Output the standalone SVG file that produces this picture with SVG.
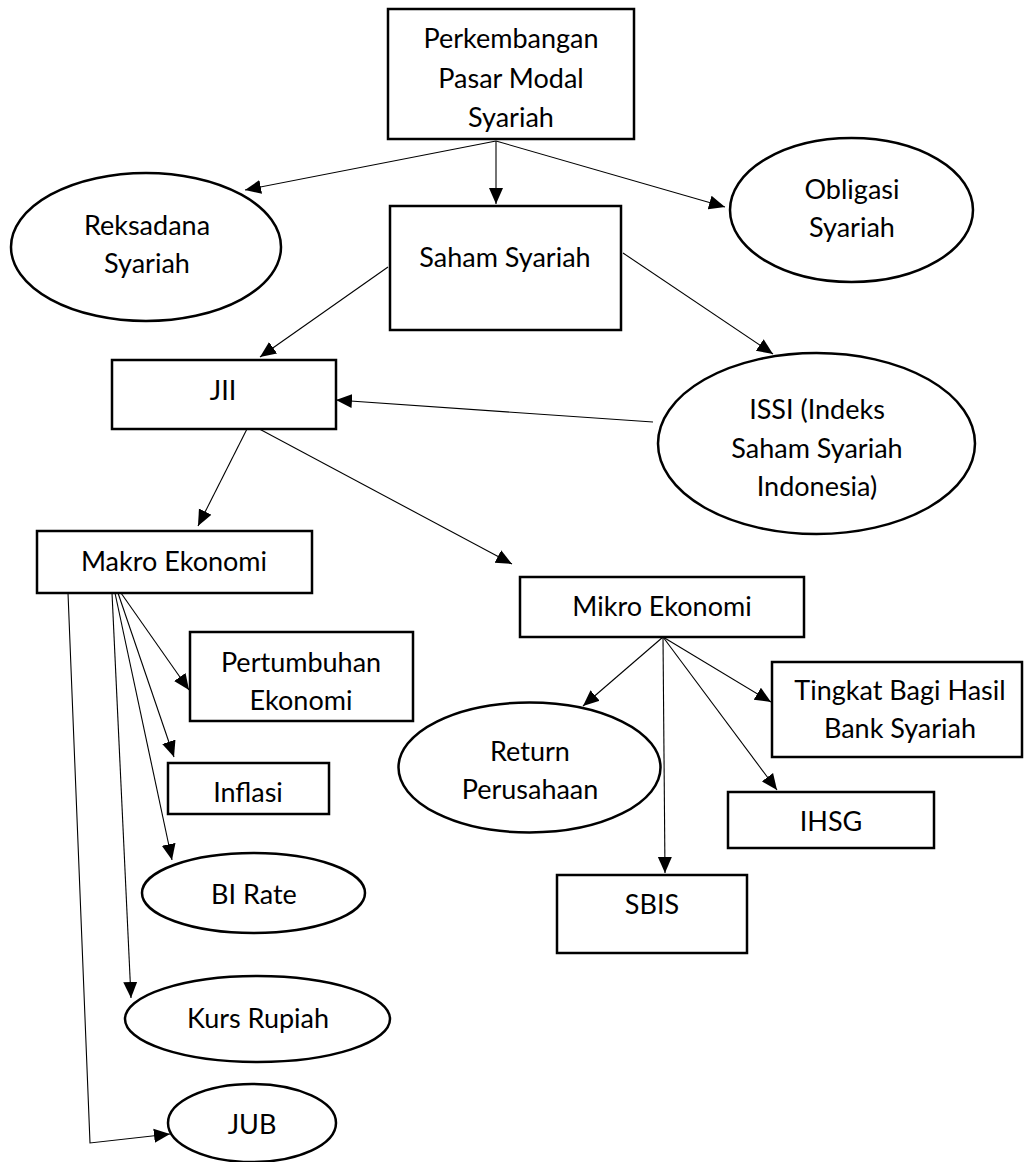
<svg xmlns="http://www.w3.org/2000/svg" width="1025" height="1162" viewBox="0 0 1025 1162">
<style>
.n{fill:#fff;stroke:#000;stroke-width:2.5}
.t{font-family:Lato,"Liberation Sans",sans-serif;font-size:27px;fill:#000;text-anchor:middle}
.c{fill:none;stroke:#000;stroke-width:1.1}
</style>
<defs>
<marker id="ah" markerUnits="userSpaceOnUse" markerWidth="18" markerHeight="16" refX="16" refY="7" orient="auto" viewBox="0 0 18 14">
<path d="M0,0 L16,7 L0,14 Z" fill="#000"/>
</marker>
</defs>
<rect width="1025" height="1162" fill="#fff"/>
<g id="connectors">
<line class="c" x1="496" y1="141" x2="245" y2="190" marker-end="url(#ah)"/>
<line class="c" x1="496" y1="141" x2="496" y2="204" marker-end="url(#ah)"/>
<line class="c" x1="496" y1="141" x2="725" y2="207" marker-end="url(#ah)"/>
<line class="c" x1="388" y1="267" x2="260" y2="357" marker-end="url(#ah)"/>
<line class="c" x1="623" y1="253" x2="773" y2="354" marker-end="url(#ah)"/>
<line class="c" x1="653" y1="422" x2="336" y2="400" marker-end="url(#ah)"/>
<line class="c" x1="249" y1="425" x2="198" y2="526" marker-end="url(#ah)"/>
<line class="c" x1="252" y1="425" x2="512" y2="564" marker-end="url(#ah)"/>
<line class="c" x1="121" y1="593" x2="189" y2="690" marker-end="url(#ah)"/>
<line class="c" x1="118" y1="593" x2="174" y2="757" marker-end="url(#ah)"/>
<line class="c" x1="115" y1="593" x2="172" y2="860" marker-end="url(#ah)"/>
<line class="c" x1="112" y1="593" x2="131" y2="998" marker-end="url(#ah)"/>
<polyline class="c" points="68,593 90,1143 170,1134" marker-end="url(#ah)"/>
<line class="c" x1="663" y1="637" x2="583" y2="706" marker-end="url(#ah)"/>
<line class="c" x1="663" y1="637" x2="665" y2="873" marker-end="url(#ah)"/>
<line class="c" x1="663" y1="637" x2="777" y2="790" marker-end="url(#ah)"/>
<line class="c" x1="663" y1="637" x2="771" y2="702" marker-end="url(#ah)"/>
</g>
<g id="perkembangan">
<rect class="n" x="388" y="9" width="246" height="130"/>
<text class="t" x="511" y="48">Perkembangan</text>
<text class="t" x="511" y="88">Pasar Modal</text>
<text class="t" x="511" y="127">Syariah</text>
</g>
<g id="reksadana">
<ellipse class="n" cx="146" cy="247" rx="135" ry="74"/>
<text class="t" x="147" y="235">Reksadana</text>
<text class="t" x="147" y="273">Syariah</text>
</g>
<g id="saham">
<rect class="n" x="390" y="206" width="231" height="124"/>
<text class="t" x="505" y="267">Saham Syariah</text>
</g>
<g id="obligasi">
<ellipse class="n" cx="851.5" cy="210" rx="121.5" ry="72"/>
<text class="t" x="852" y="199">Obligasi</text>
<text class="t" x="852" y="237">Syariah</text>
</g>
<g id="jii">
<rect class="n" x="112" y="360" width="224" height="69"/>
<text class="t" x="223" y="400">JII</text>
</g>
<g id="issi">
<ellipse class="n" cx="816.5" cy="443.5" rx="158.5" ry="90.5"/>
<text class="t" x="817" y="419">ISSI (Indeks</text>
<text class="t" x="817" y="458">Saham Syariah</text>
<text class="t" x="817" y="496">Indonesia)</text>
</g>
<g id="makro">
<rect class="n" x="37" y="531" width="275" height="62"/>
<text class="t" x="174" y="571">Makro Ekonomi</text>
</g>
<g id="mikro">
<rect class="n" x="520" y="577" width="284" height="60"/>
<text class="t" x="662" y="616">Mikro Ekonomi</text>
</g>
<g id="pertumbuhan">
<rect class="n" x="190" y="632" width="223" height="89"/>
<text class="t" x="301" y="672">Pertumbuhan</text>
<text class="t" x="301" y="710">Ekonomi</text>
</g>
<g id="inflasi">
<rect class="n" x="168" y="763" width="161" height="51"/>
<text class="t" x="248" y="802">Inflasi</text>
</g>
<g id="birate">
<ellipse class="n" cx="253.5" cy="893" rx="111.5" ry="40"/>
<text class="t" x="254" y="904">BI Rate</text>
</g>
<g id="kurs">
<ellipse class="n" cx="257.5" cy="1019" rx="132.5" ry="43"/>
<text class="t" x="258" y="1028">Kurs Rupiah</text>
</g>
<g id="jub">
<ellipse class="n" cx="252" cy="1123" rx="84" ry="39"/>
<text class="t" x="252" y="1134">JUB</text>
</g>
<g id="return">
<ellipse class="n" cx="529.5" cy="767.5" rx="131" ry="65"/>
<text class="t" x="530" y="761">Return</text>
<text class="t" x="530" y="799">Perusahaan</text>
</g>
<g id="sbis">
<rect class="n" x="557" y="875" width="190" height="78"/>
<text class="t" x="652" y="914">SBIS</text>
</g>
<g id="tingkat">
<rect class="n" x="772" y="662" width="250" height="95"/>
<text class="t" x="900" y="700">Tingkat Bagi Hasil</text>
<text class="t" x="900" y="738">Bank Syariah</text>
</g>
<g id="ihsg">
<rect class="n" x="728" y="792" width="206" height="56"/>
<text class="t" x="831" y="831">IHSG</text>
</g>
</svg>
